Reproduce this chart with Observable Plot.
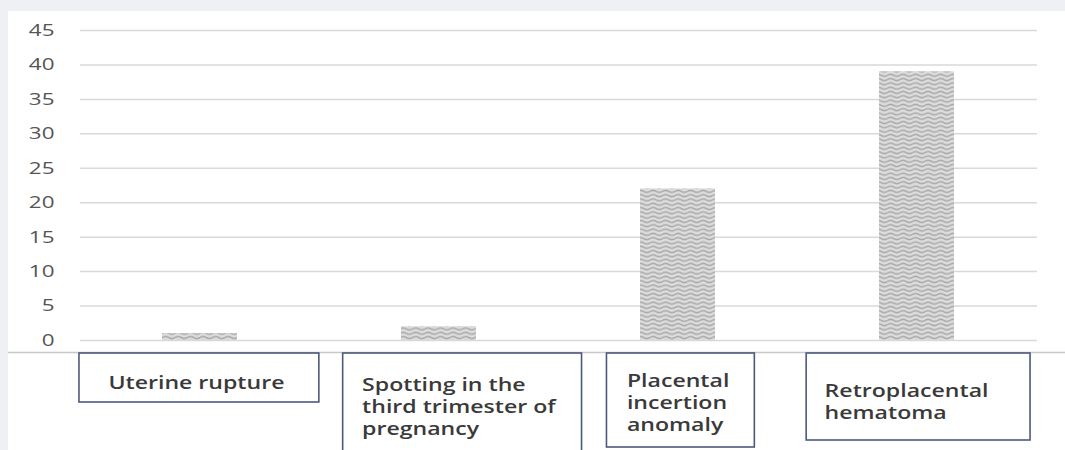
<!DOCTYPE html>
<html><head><meta charset="utf-8">
<script src="https://cdn.jsdelivr.net/npm/d3@7"></script>
<script src="https://cdn.jsdelivr.net/npm/@observablehq/plot@0.6"></script>
<style>
html,body{margin:0;padding:0;background:#eef0f3;width:1065px;height:450px;overflow:hidden;}
#panel{position:absolute;left:8px;top:11px;width:1057px;height:439px;background:#fff;}
#chart{position:absolute;left:0;top:0;}
</style></head><body>
<div id="panel"></div><div id="chart"></div>
<script>
// ---- data ----
const categories = ["Uterine rupture", "Spotting in the third trimester of pregnancy", "Placental incertion anomaly", "Retroplacental hematoma"];
const values = [1, 2, 22, 39];
const labelTexts = ["Uterine rupture", "Spotting in the\nthird trimester of\npregnancy", "Placental\nincertion\nanomaly", "Retroplacental\nhematoma"];
const yTicks = [0, 5, 10, 15, 20, 25, 30, 35, 40, 45];

// ---- layout / style (pixels relative to band centre) ----
const W = 1065, H = 450, mL = 80, mR = 28, mT = 30, mB = 110;
const padIn = 0.686, padOut = 0.343;
const step = (W - mL - mR) / (categories.length - padIn + 2 * padOut);
const bw = step * (1 - padIn);
const frameBottom = H - mB;
const boxes = [
  {left: -120.6, right: 119.4, top: 353, bottom: 402, textX: -91.6, textTop: 373},
  {left: -95.9, right: 143.1, top: 353, bottom: 458, textX: -76.9, textTop: 375},
  {left: -71.1, right: 76.9, top: 353, bottom: 447, textX: -51.1, textTop: 371},
  {left: -110.4, right: 113.6, top: 353, bottom: 440, textX: -92.4, textTop: 381}
];
const stretch = 1.32;

const data = categories.map((c, i) => ({cat: c, value: values[i], label: labelTexts[i]}));

const boxMarks = data.map((d, i) => {
  const b = boxes[i];
  return Plot.cell([d], {
    x: "cat", fill: "white", stroke: "#4b5a7c", strokeWidth: 1.6,
    insetLeft: b.left + bw / 2, insetRight: bw / 2 - b.right,
    insetTop: b.top - mT, insetBottom: frameBottom - b.bottom
  });
});
const textMarks = data.map((d, i) => {
  const b = boxes[i];
  return Plot.text([d], {
    x: "cat", text: "label", frameAnchor: "bottom", textAnchor: "start", lineAnchor: "top",
    dx: b.textX, dy: b.textTop - frameBottom, fontSize: 17.5, fontWeight: 600,
    lineHeight: 1.25, fill: "#3a3a3a"
  });
});

const svg = Plot.plot({
  width: W, height: H,
  marginLeft: mL, marginRight: mR, marginTop: mT, marginBottom: mB,
  style: {background: "transparent", fontFamily: "'Open Sans', sans-serif", overflow: "visible"},
  x: {domain: categories, paddingInner: padIn, paddingOuter: padOut, axis: null},
  y: {domain: [0, 45], ticks: yTicks, label: null},
  marks: [
    Plot.ruleY(yTicks, {stroke: "#d9d9d9", strokeWidth: 1.5}),
    Plot.axisY(yTicks, {tickSize: 0, tickPadding: 26, fontSize: 17, fill: "#555555", label: null}),
    Plot.barY(data, {x: "cat", y: "value", fill: "url(#wave)"}),
    Plot.ruleY([0], {dy: 12, insetLeft: -(mL - 8), insetRight: -mR, stroke: "#c8c8c8", strokeWidth: 1.5}),
    ...boxMarks,
    ...textMarks
  ]
});

// pattern definition
const sel = d3.select(svg);
const defs = sel.insert("defs", ":first-child");
const pat = defs.append("pattern").attr("id", "wave").attr("patternUnits", "userSpaceOnUse")
  .attr("width", 12.5).attr("height", 4.3);
pat.append("rect").attr("width", 12.5).attr("height", 4.3).attr("fill", "#dcdcdc");
pat.append("path").attr("d", "M0 2.15 Q3.125 0.2 6.25 2.15 T12.5 2.15")
  .attr("fill", "none").attr("stroke", "#a9a9a9").attr("stroke-width", 1.3);

// horizontal stretch of the text (the reference is widened)
sel.selectAll("text").each(function () {
  const t = this.getAttribute("transform");
  if (t) {
    this.setAttribute("transform", t + ` scale(${stretch},1)`);
  } else {
    const x = +this.getAttribute("x") || 0, y = +this.getAttribute("y") || 0;
    this.removeAttribute("x"); this.removeAttribute("y");
    this.setAttribute("transform", `translate(${x},${y}) scale(${stretch},1)`);
  }
});

document.getElementById("chart").appendChild(svg);
</script>
</body></html>
